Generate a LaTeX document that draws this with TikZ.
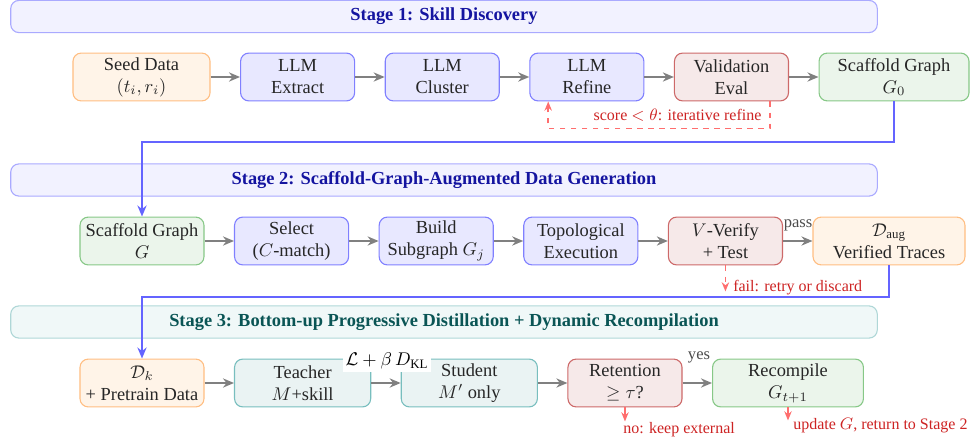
\documentclass[tikz,border=0pt]{standalone}
\usepackage{amsmath}
\usepackage{fontspec}
\setmainfont{Liberation Serif}
\usepackage{tikz}
\usetikzlibrary{arrows.meta,positioning}

\definecolor{bluefill}{RGB}{232,232,255}
\definecolor{blueline}{RGB}{128,128,255}
\definecolor{redfill}{RGB}{246,233,233}
\definecolor{redline}{RGB}{205,105,105}
\definecolor{greenfill}{RGB}{235,245,235}
\definecolor{greenline}{RGB}{135,200,135}
\definecolor{orangefill}{RGB}{255,244,232}
\definecolor{orangeline}{RGB}{255,190,130}
\definecolor{tealfill}{RGB}{234,243,243}
\definecolor{tealline}{RGB}{120,190,190}
\definecolor{barblue}{RGB}{242,242,255}
\definecolor{barblueline}{RGB}{170,170,255}
\definecolor{barteal}{RGB}{240,248,248}
\definecolor{bartealline}{RGB}{175,215,215}
\definecolor{titleblue}{RGB}{20,20,160}
\definecolor{titleteal}{RGB}{10,85,85}
\definecolor{linkblue}{RGB}{100,100,255}
\definecolor{notered}{RGB}{205,35,35}
\definecolor{arrowred}{RGB}{255,110,110}

\begin{document}
\begin{tikzpicture}[x=0.5435pt, y=-0.5435pt, node distance=16pt,
    every node/.style = {align=center},
    box/.style = {rounded corners=4.5pt, line width=0.6pt, minimum height=26pt, text=black!85, inner sep=2pt},
    bluebox/.style = {box, fill=bluefill, draw=blueline, minimum width=62pt},
    redbox/.style = {box, fill=redfill, draw=redline, minimum width=62pt},
    greenbox/.style = {box, fill=greenfill, draw=greenline},
    orangebox/.style = {box, fill=orangefill, draw=orangeline},
    tealbox/.style = {box, fill=tealfill, draw=tealline, minimum width=74pt},
    stagebar/.style = {rounded corners=4.5pt, line width=0.6pt, minimum width=471pt, minimum height=17.5pt, font=\bfseries},
    flow/.style = {draw=gray, line width=1pt, -{Stealth[length=6pt,width=5pt]}},
    link/.style = {draw=linkblue, line width=1.1pt, -{Stealth[length=6pt,width=5pt]}},
    back/.style = {draw=arrowred, line width=0.8pt, dashed, -{Stealth[length=5pt,width=4pt]}},
    exitarrow/.style = {draw=arrowred, line width=0.8pt, -{Stealth[length=5pt,width=4pt]}},
    note/.style = {font=\fontsize{8.7}{10.5}\selectfont, text=notered, inner sep=0.5pt},
    tag/.style = {font=\small, text=black!70, inner sep=1pt}]
  \useasboundingbox (0,0) rectangle (971,442);

  \node[stagebar, fill=barblue, draw=barblueline, text=titleblue] (bar1) at (444,16.5) {Stage 1: Skill Discovery};
  \node[orangebox, minimum width=74.5pt] (seed) at (141.5,77) {Seed Data\\$(t_i, r_i)$};
  \node[bluebox, right=of seed] (extract) {LLM\\Extract};
  \node[bluebox, right=of extract] (cluster) {LLM\\Cluster};
  \node[bluebox, right=of cluster] (refine) {LLM\\Refine};
  \node[redbox, right=of refine] (eval) {Validation\\Eval};
  \node[greenbox, right=of eval, minimum width=81.5pt] (gzero) {Scaffold Graph\\$G_0$};

  \node[stagebar, fill=barblue, draw=barblueline, text=titleblue] (bar2) at (444,180) {Stage 2: Scaffold-Graph-Augmented Data Generation};
  \node[greenbox, minimum width=67.4pt] (graph) at (142,241) {Scaffold Graph\\$G$};
  \node[bluebox, right=of graph] (select) {Select\\($C$-match)};
  \node[bluebox, right=of select] (build) {Build\\Subgraph $G_j$};
  \node[bluebox, right=of build] (topo) {Topological\\Execution};
  \node[redbox, right=of topo] (verify) {$V$-Verify\\+ Test};
  \node[orangebox, right=of verify, minimum width=82.6pt] (daug) {$\mathcal{D}_{\text{aug}}$\\Verified Traces};

  \node[stagebar, fill=barteal, draw=bartealline, text=titleteal] (bar3) at (444,322) {Stage 3: Bottom-up Progressive Distillation + Dynamic Recompilation};
  \node[orangebox, minimum width=67.4pt] (dk) at (142,383) {$\mathcal{D}_k$\\+ Pretrain Data};
  \node[tealbox, right=of dk] (teacher) {Teacher\\$M$+skill};
  \node[tealbox, right=of teacher] (student) {Student\\$M'$ only};
  \node[redbox, right=of student] (retain) {Retention\\$\geq\tau$?};
  \node[greenbox, right=of retain, minimum width=82pt] (recomp) {Recompile\\$G_{t+1}$};

  \draw[flow] (seed) -- (extract);
  \draw[flow] (extract) -- (cluster);
  \draw[flow] (cluster) -- (refine);
  \draw[flow] (refine) -- (eval);
  \draw[flow] (eval) -- (gzero);
  \draw[back] ([xshift=-10.3pt]eval.south east) -- ++(0,27) -| ([xshift=10.3pt]refine.south west);
  \node[note] (scorelbl) at (677.5,115) {score $<\theta$: iterative refine};

  \draw[link] (gzero.south) -- ++(0,41) -| (graph.north);

  \draw[flow] (graph) -- (select);
  \draw[flow] (select) -- (build);
  \draw[flow] (build) -- (topo);
  \draw[flow] (topo) -- (verify);
  \draw[flow] (verify) -- (daug);
  \node[tag] (passlbl) at (798,225) {pass};
  \draw[back] (verify.south) -- ++(0,26);
  \node[note, anchor=west] (faillbl) at (732,288) {fail: retry or discard};

  \draw[link] (daug.south) -- ++(0,32) -| (dk.north);

  \draw[flow] (dk) -- (teacher);
  \draw[flow] (teacher) -- (student);
  \draw[flow] (student) -- (retain);
  \draw[flow] (retain) -- (recomp);
  \node[fill=white, inner sep=1.5pt] (losslbl) at (387,361) {$\mathcal{L}+\beta\,D_{\mathrm{KL}}$};
  \node[tag] (yeslbl) at (699,357) {yes};
  \draw[exitarrow] (retain.south) -- ++(0,14);
  \node[note, anchor=west] (nolbl) at (622,430) {no: keep external};
  \draw[exitarrow] (recomp.south) -- ++(0,13);
  \node[note, anchor=west] (updlbl) at (792,426) {update $G$, return to Stage 2};
\end{tikzpicture}
\end{document}
